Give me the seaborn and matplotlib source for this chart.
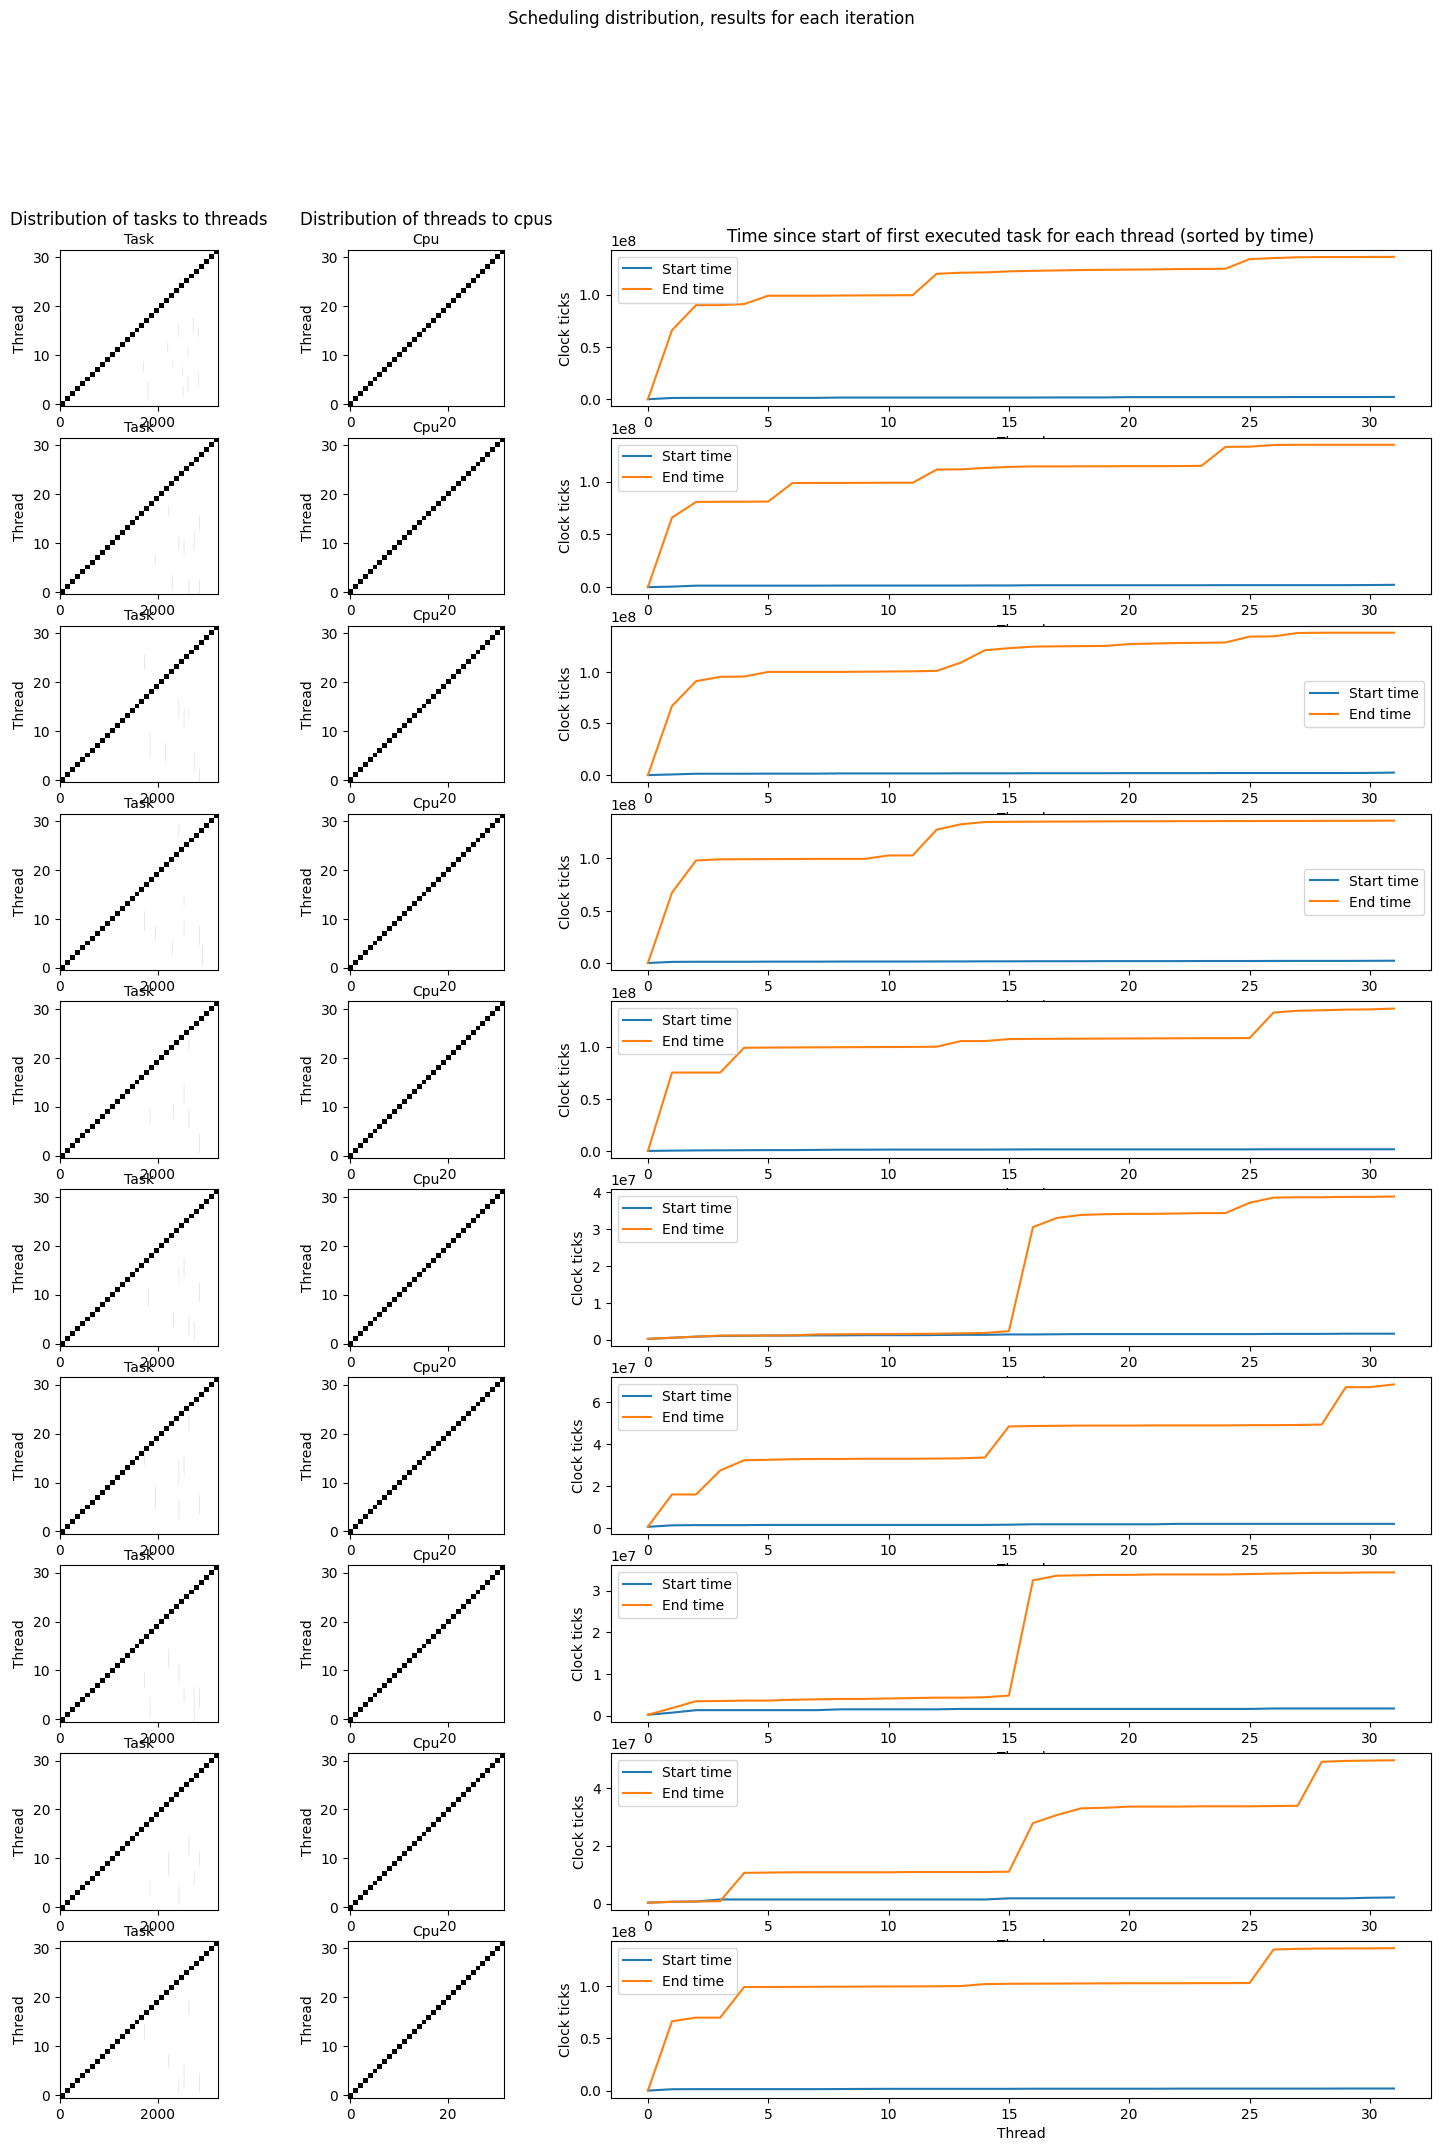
import numpy as np
import pandas as pd
import matplotlib
matplotlib.use("Agg")
import matplotlib.pyplot as plt
import seaborn as sns

# ---------------- data ----------------
N_THREADS = 32
N_TASKS = 3232

# first task of the static chunk owned by each thread (chunk end = next start)
thread_first_task = [0, 101, 202, 303, 404, 505, 606, 707, 808, 909, 1010, 1111,
                     1212, 1313, 1414, 1515, 1616, 1717, 1818, 1919, 2020, 2121,
                     2222, 2323, 2424, 2525, 2626, 2727, 2828, 2929, 3030, 3131, 3232]

# cpu used by each thread
thread_cpu = [0, 1, 2, 3, 4, 5, 6, 7, 8, 9, 10, 11, 12, 13, 14, 15, 16, 17, 18, 19,
              20, 21, 22, 23, 24, 25, 26, 27, 28, 29, 30, 31]

# tasks executed outside the owner's chunk: (first_task, last_task, first_thread, last_thread)
stolen_1 = [(1700, 1701, 7, 8), (1785, 1786, 1, 4), (2190, 2191, 11, 12), (2280, 2281, 8, 8),
            (2400, 2401, 14, 16), (2490, 2491, 6, 7), (2500, 2501, 2, 3), (2600, 2601, 10, 11),
            (2600, 2601, 3, 5), (2705, 2706, 15, 17), (2810, 2811, 14, 15), (2810, 2811, 4, 6),
            (2430, 2431, 23, 25)]
stolen_2 = [(2210, 2211, 16, 17), (2415, 2416, 9, 11), (2520, 2521, 8, 10), (2725, 2726, 9, 12),
            (2830, 2831, 13, 15), (2620, 2621, 0, 2), (2280, 2281, 1, 3), (1935, 1936, 6, 7),
            (2830, 2831, 0, 2)]
stolen_3 = [(1715, 1716, 23, 25), (1830, 1831, 5, 9), (2415, 2416, 13, 16), (2520, 2521, 11, 14),
            (2620, 2621, 13, 14), (2725, 2726, 2, 5), (2830, 2831, 0, 2), (2140, 2141, 4, 7)]
stolen_4 = [(2415, 2416, 27, 29), (1715, 1716, 8, 11), (2520, 2521, 13, 14), (2520, 2521, 7, 9),
            (2830, 2831, 5, 8), (2895, 2896, 1, 4), (2280, 2281, 3, 5), (1935, 1936, 6, 8)]
stolen_5 = [(2620, 2621, 22, 24), (2520, 2521, 11, 14), (2620, 2621, 6, 9), (1830, 1831, 7, 9),
            (2310, 2311, 8, 10), (2830, 2831, 1, 4)]
stolen_6 = [(1800, 1801, 8, 11), (2415, 2416, 13, 15), (2520, 2521, 14, 17), (2620, 2621, 2, 5),
            (2830, 2831, 9, 12), (2725, 2726, 1, 4), (2310, 2311, 4, 6)]
stolen_7 = [(1715, 1716, 14, 17), (2415, 2416, 10, 14), (2520, 2521, 12, 15), (2620, 2621, 21, 23),
            (2830, 2831, 4, 7), (2415, 2416, 3, 6), (1935, 1936, 5, 9)]
stolen_8 = [(1715, 1716, 7, 9), (2415, 2416, 8, 11), (2520, 2521, 4, 6), (2725, 2726, 0, 6),
            (2830, 2831, 3, 6), (2210, 2211, 11, 14), (1830, 1831, 1, 4)]
stolen_9 = [(2210, 2211, 7, 11), (2415, 2416, 1, 4), (2620, 2621, 11, 14), (2725, 2726, 5, 7),
            (2830, 2831, 9, 11), (1830, 1831, 3, 5)]
stolen_10 = [(1715, 1716, 12, 14), (2620, 2621, 17, 19), (2520, 2521, 2, 6), (2830, 2831, 1, 4),
             (2415, 2416, 1, 3), (2210, 2211, 6, 8)]
stolen = [stolen_1, stolen_2, stolen_3, stolen_4, stolen_5,
          stolen_6, stolen_7, stolen_8, stolen_9, stolen_10]

# start / end times (millions of clock ticks), threads sorted by time
start_1 = [0, 1.2, 1.3, 1.3, 1.3, 1.3, 1.3, 1.3, 1.6, 1.6, 1.6, 1.6, 1.6, 1.6, 1.6, 1.6,
           1.6, 1.7, 1.7, 1.7, 2.0, 2.0, 2.0, 2.0, 2.0, 2.0, 2.0, 2.1, 2.1, 2.1, 2.1, 2.2]
end_1 = [0, 66, 90, 90, 91, 99, 99, 99, 99.2, 99.3, 99.4, 99.5, 120, 121, 121.3, 122.3,
         122.8, 123.2, 123.6, 123.8, 124.0, 124.2, 124.5, 124.6, 124.8, 134, 135, 135.8,
         136, 136, 136.1, 136.2]
start_2 = [0, 0.5, 1.4, 1.4, 1.4, 1.4, 1.4, 1.4, 1.5, 1.5, 1.5, 1.5, 1.5, 1.5, 1.6, 1.6,
           1.8, 1.8, 1.8, 1.8, 1.8, 1.8, 1.8, 1.8, 1.9, 1.9, 1.9, 1.9, 1.9, 1.9, 2.0, 2.2]
end_2 = [0, 66, 80.8, 81, 81, 81.2, 98.7, 98.8, 98.8, 98.9, 99, 99, 111.5, 111.7, 113, 114,
         114.5, 114.5, 114.6, 114.6, 114.7, 114.7, 114.8, 115, 133, 133.2, 134.8, 135, 135,
         135, 135, 135]
start_3 = [0, 0.6, 1.3, 1.3, 1.3, 1.4, 1.4, 1.4, 1.6, 1.6, 1.6, 1.6, 1.6, 1.7, 1.7, 1.7,
           1.8, 1.8, 1.8, 1.8, 1.9, 1.9, 1.9, 1.9, 2.0, 2.0, 2.0, 2.0, 2.0, 2.0, 2.1, 2.4]
end_3 = [0, 67, 91, 95.2, 95.5, 100, 100, 100, 100, 100.2, 100.4, 100.6, 101, 109, 121, 123,
         124.5, 124.8, 125, 125.2, 127, 127.5, 128, 128.2, 128.5, 134.2, 134.5, 137.7, 138,
         138, 138, 138]
start_4 = [0, 1.1, 1.2, 1.2, 1.2, 1.3, 1.3, 1.3, 1.4, 1.4, 1.4, 1.4, 1.5, 1.5, 1.6, 1.6,
           1.7, 1.7, 1.7, 1.8, 1.8, 1.8, 1.8, 1.9, 1.9, 1.9, 2.0, 2.0, 2.0, 2.0, 2.1, 2.2]
end_4 = [0, 67.3, 98.1, 99.2, 99.3, 99.4, 99.5, 99.6, 99.6, 99.6, 102.9, 102.9, 127.6, 132.7,
         134.9, 135.1, 135.2, 135.3, 135.4, 135.5, 135.6, 135.6, 135.7, 135.7, 135.8, 135.8,
         135.9, 135.9, 136, 136, 136.1, 136.2]
start_5 = [0, 0.3, 0.5, 0.6, 0.7, 0.8, 0.8, 1.0, 1.2, 1.2, 1.3, 1.3, 1.3, 1.3, 1.3, 1.4,
           1.5, 1.5, 1.5, 1.5, 1.5, 1.5, 1.5, 1.5, 1.5, 1.5, 1.6, 1.6, 1.6, 1.6, 1.6, 1.6]
end_5 = [0, 75.2, 75.2, 75.2, 99, 99.2, 99.3, 99.4, 99.5, 99.6, 99.7, 99.8, 100, 105.4, 105.4,
         107.3, 107.5, 107.6, 107.7, 107.8, 107.9, 108, 108.1, 108.2, 108.2, 108.3, 132.8,
         134.5, 135, 135.6, 135.8, 136.6]
start_6 = [0.2, 0.5, 0.8, 1.0, 1.05, 1.1, 1.1, 1.15, 1.15, 1.2, 1.2, 1.2, 1.25, 1.3, 1.3, 1.4,
           1.4, 1.45, 1.5, 1.5, 1.5, 1.5, 1.5, 1.5, 1.5, 1.5, 1.55, 1.55, 1.55, 1.6, 1.6, 1.6]
end_6 = [0.2, 0.5, 0.8, 1.1, 1.1, 1.1, 1.15, 1.4, 1.45, 1.5, 1.5, 1.55, 1.6, 1.7, 1.8, 2.3,
         30.5, 33.0, 33.8, 34.0, 34.1, 34.1, 34.2, 34.3, 34.3, 37.1, 38.5, 38.6, 38.6, 38.7,
         38.7, 38.8]
start_7 = [0.5, 1.2, 1.3, 1.3, 1.3, 1.4, 1.4, 1.4, 1.4, 1.4, 1.4, 1.4, 1.4, 1.4, 1.4, 1.5,
           1.7, 1.7, 1.7, 1.7, 1.7, 1.7, 1.9, 1.9, 1.9, 1.9, 1.9, 1.9, 1.9, 1.9, 1.9, 1.9]
end_7 = [0.6, 15.9, 15.9, 27.3, 32.2, 32.4, 32.7, 32.8, 32.8, 32.9, 32.9, 32.9, 33.0, 33.1,
         33.5, 48.3, 48.5, 48.6, 48.7, 48.7, 48.7, 48.8, 48.8, 48.8, 48.8, 48.9, 48.9, 49.0,
         49.2, 67.0, 67.0, 68.3]
start_8 = [0.2, 0.7, 1.3, 1.3, 1.3, 1.3, 1.3, 1.3, 1.5, 1.5, 1.5, 1.5, 1.5, 1.6, 1.6, 1.6,
           1.6, 1.6, 1.6, 1.6, 1.6, 1.6, 1.6, 1.6, 1.6, 1.6, 1.7, 1.7, 1.7, 1.7, 1.7, 1.7]
end_8 = [0.2, 1.8, 3.45, 3.5, 3.6, 3.6, 3.8, 3.9, 4.0, 4.0, 4.1, 4.2, 4.3, 4.3, 4.4, 4.8,
         32.5, 33.6, 33.7, 33.8, 33.8, 33.9, 33.9, 33.9, 33.9, 34.0, 34.1, 34.2, 34.3, 34.3,
         34.4, 34.4]
start_9 = [0.3, 0.6, 0.7, 1.4, 1.4, 1.4, 1.4, 1.4, 1.4, 1.4, 1.4, 1.4, 1.4, 1.4, 1.4, 1.8,
           1.8, 1.8, 1.8, 1.8, 1.8, 1.8, 1.8, 1.8, 1.8, 1.8, 1.8, 1.8, 1.8, 1.8, 2.0, 2.1]
end_9 = [0.3, 0.6, 0.7, 0.8, 10.6, 10.7, 10.8, 10.8, 10.8, 10.8, 10.8, 10.9, 10.9, 10.9, 10.9,
         11.0, 27.8, 30.6, 32.9, 33.1, 33.5, 33.5, 33.5, 33.6, 33.6, 33.6, 33.7, 33.8, 49.0,
         49.3, 49.4, 49.5]
start_10 = [0, 1.3, 1.4, 1.4, 1.4, 1.4, 1.4, 1.4, 1.5, 1.6, 1.7, 1.7, 1.7, 1.7, 1.7, 1.7,
            1.8, 1.8, 1.8, 1.8, 1.8, 1.8, 1.9, 1.9, 1.9, 1.9, 1.9, 1.9, 1.9, 2.0, 2.0, 2.0]
end_10 = [0, 66.5, 70, 70, 99.4, 99.4, 99.5, 99.6, 99.7, 99.8, 99.9, 100.0, 100.1, 100.3,
          102.2, 102.5, 102.6, 102.7, 102.8, 102.9, 103.0, 103.0, 103.0, 103.1, 103.1, 103.2,
          135.4, 136.0, 136.3, 136.4, 136.5, 136.6]

start_times = [start_1, start_2, start_3, start_4, start_5,
               start_6, start_7, start_8, start_9, start_10]
end_times = [end_1, end_2, end_3, end_4, end_5, end_6, end_7, end_8, end_9, end_10]
TICKS_UNIT = 1e6

legend_locs = ["upper left", "upper left", "center right", "center right", "upper left",
               "upper left", "upper left", "upper left", "upper left", "upper left"]

# ---------------- plot ----------------
fig, axes = plt.subplots(10, 3, figsize=(18, 24), dpi=100,
                         gridspec_kw={"width_ratios": [1, 1, 4]})
fig.suptitle("Scheduling distribution, results for each iteration")

for i in range(10):
    # tasks -> threads: owned chunks and stolen tasks
    own_mat = np.zeros((N_THREADS, N_TASKS))
    for t in range(N_THREADS):
        own_mat[t, thread_first_task[t]:thread_first_task[t + 1]] = 1
    steal_mat = np.zeros((N_THREADS, N_TASKS))
    for (k0, k1, t0, t1) in stolen[i]:
        steal_mat[t0:t1 + 1, k0:k1 + 1] = 1
    ax = axes[i, 0]
    ax.imshow(own_mat, cmap="Greys", vmin=0, vmax=1, origin="lower", aspect=100,
              interpolation="nearest")
    ax.imshow(np.ma.masked_equal(steal_mat, 0), cmap="Greys", vmin=0, vmax=1,
              origin="lower", aspect=100, interpolation="antialiased",
              interpolation_stage="rgba")
    ax.set_xlabel("Task")
    ax.xaxis.set_label_position("top")
    ax.set_ylabel("Thread")
    if i == 0:
        ax.set_title("Distribution of tasks to threads")

    # threads -> cpus
    cpu_mat = np.zeros((N_THREADS, len(thread_cpu)))
    for t, c in enumerate(thread_cpu):
        cpu_mat[t, c] = 1
    ax = axes[i, 1]
    ax.imshow(cpu_mat, cmap="Greys", vmin=0, vmax=1, origin="lower")
    ax.set_xlabel("Cpu")
    ax.xaxis.set_label_position("top")
    ax.set_ylabel("Thread")
    if i == 0:
        ax.set_title("Distribution of threads to cpus")

    # times
    ax = axes[i, 2]
    df = pd.DataFrame({
        "Thread": np.arange(N_THREADS),
        "Start": np.array(start_times[i]) * TICKS_UNIT,
        "End": np.array(end_times[i]) * TICKS_UNIT,
    })
    sns.lineplot(data=df, x="Thread", y="Start", label="Start time", ax=ax)
    sns.lineplot(data=df, x="Thread", y="End", label="End time", ax=ax)
    ax.set_xlabel("Thread")
    ax.set_ylabel("Clock ticks")
    ax.legend(loc=legend_locs[i])
    if i == 0:
        ax.set_title("Time since start of first executed task for each thread (sorted by time)")

fig.savefig("out.png", dpi=100, bbox_inches="tight")
